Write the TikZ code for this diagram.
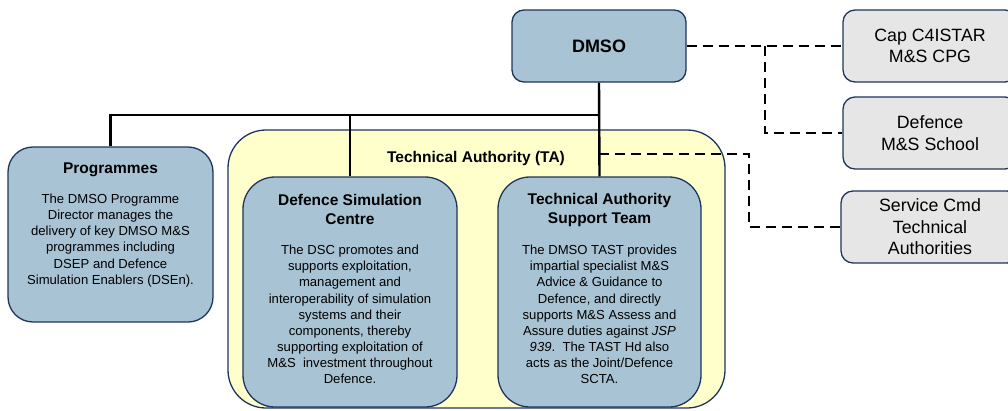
\documentclass[tikz,border=0pt]{standalone}
\usepackage{fontspec}
\setmainfont{Liberation Sans}
\definecolor{boxblue}{RGB}{168,196,212}
\definecolor{boxedge}{RGB}{31,52,92}
\definecolor{tayellow}{RGB}{255,255,204}
\definecolor{boxgray}{RGB}{230,230,230}
\tikzset{
  base/.style={draw=boxedge, line width=1.3pt, inner sep=0pt},
  bluebox/.style={base, fill=boxblue},
  graybox/.style={base, fill=boxgray, rounded corners=12pt, minimum width=174pt, minimum height=72pt,
     font=\fontsize{17.8}{21.5}\selectfont, align=center},
  title/.style={font=\bfseries\fontsize{15.5}{19}\selectfont, align=center, inner sep=0pt},
  body/.style={font=\fontsize{13.1}{16.1}\selectfont, align=center, inner sep=0pt},
  solidline/.style={line width=2.4pt, black},
  dashline/.style={line width=2.4pt, black, dash pattern=on 10pt off 6pt},
}
\begin{document}
\begin{tikzpicture}[x=1pt,y=-1pt]
\path[use as bounding box] (0,0) rectangle (1008,410);
\begin{scope}
\clip (0,0) rectangle (1008,410);
% containers
\node[base, fill=tayellow, rounded corners=38pt, minimum width=497pt, minimum height=278pt] (ta) at (476.5,269) {};
\node[bluebox, rounded corners=12pt, minimum width=174pt, minimum height=72pt, font=\bfseries\fontsize{18}{20}\selectfont] (dmso) at (599,46) {DMSO};
\node[bluebox, rounded corners=25pt, minimum width=205pt, minimum height=175pt] (prog) at (110.5,234.5) {};
\node[bluebox, rounded corners=32pt, minimum width=214pt, minimum height=230pt] (dsc) at (350,292) {};
\node[bluebox, rounded corners=32pt, minimum width=203pt, minimum height=230pt] (tast) at (599.5,292) {};
\node[graybox] (cap) at (930,46) {Cap C4ISTAR\\M\&S CPG};
\node[graybox] (school) at (930,133) {Defence\\M\&S School};
\node[graybox, minimum width=178pt] (svc) at (930,227) {Service Cmd\\Technical\\Authorities};
\end{scope}
% texts
\node[title] (tatitle) at (476,158) {Technical Authority (TA)};
\node[title] (progtitle) at (110.5,170) {Programmes};
\node[body] (progbody) at (110.5,240.5) {The DMSO Programme\\Director manages the\\delivery of key DMSO M\&S\\programmes including\\DSEP and Defence\\Simulation Enablers (DSEn).};
\node[title] (dsctitle) at (350,209.5) {Defence Simulation\\Centre};
\node[body] (dscbody) at (350,314.5) {The DSC promotes and\\supports exploitation,\\management and\\interoperability of simulation\\systems and their\\components, thereby\\supporting exploitation of\\M\&S\ \ investment throughout\\Defence.};
\node[title] (tasttitle) at (599.5,209.5) {Technical Authority\\Support Team};
\node[body] (tastbody) at (599.5,314.5) {The DMSO TAST provides\\impartial specialist M\&S\\Advice \& Guidance to\\Defence, and directly\\supports M\&S Assess and\\Assure duties against \textit{JSP}\\\textit{939}.\ \ The TAST Hd also\\acts as the Joint/Defence\\SCTA.};
% connectors
\coordinate (bus) at (599,115);
\coordinate (j1) at (765,46);
\coordinate (j2) at (599,154);
\coordinate (j3) at (749,154);
\draw[solidline] (dmso.south) -- (tast.north);
\draw[solidline] (prog.north) |- (bus);
\draw[solidline] (dsc.north) -- (dsc.north |- bus);
\draw[dashline] (dmso.east) -- (cap.west);
\draw[dashline] (j1) |- (school.west);
\draw[dashline] (j2) -- (j3) |- (svc.west);
\end{tikzpicture}
\end{document}
